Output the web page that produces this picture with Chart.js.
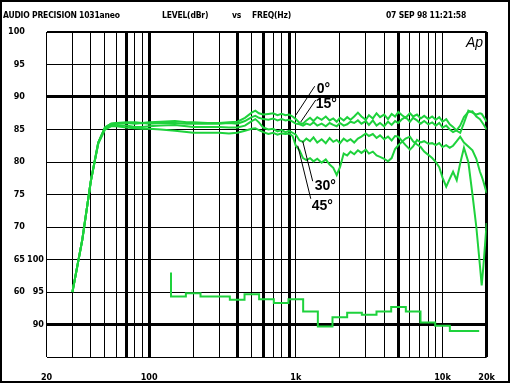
<!DOCTYPE html>
<html>
<head>
<meta charset="utf-8">
<script src="https://cdn.jsdelivr.net/npm/chart.js@4"></script>
<style>
  html,body{margin:0;padding:0;background:#fff;}
  #wrap{position:relative;width:510px;height:384px;overflow:hidden;}
  canvas{position:absolute;left:0;top:0;}
  .hdr{position:absolute;top:10px;font:bold 8.5px "Liberation Sans Narrow","DejaVu Sans Condensed",sans-serif;letter-spacing:-0.2px;color:#000;white-space:nowrap;line-height:11px;}
  #ap{position:absolute;left:466px;top:34px;font:italic 14px "Liberation Sans",Arial,sans-serif;color:#000;}
  #frame{position:absolute;left:0;top:0;width:510px;height:383px;box-sizing:border-box;border:2px solid #000;pointer-events:none;}
</style>
</head>
<body>
<div id="wrap">
  <canvas id="c" width="510" height="384"></canvas>
  <div class="hdr" style="left:3px">AUDIO PRECISION 1031aneo</div>
  <div class="hdr" style="left:162px">LEVEL(dBr)</div>
  <div class="hdr" style="left:232px">vs</div>
  <div class="hdr" style="left:252px">FREQ(Hz)</div>
  <div class="hdr" style="left:386px">07 SEP 98 11:21:58</div>
  <div id="ap">Ap</div>
  <div id="frame"></div>
</div>
<script>
// ---- data ----
const freqs = [30,35,40,45,50,55,60,70,80,90,100,120,150,180,200,250,300,350,400,
  450,500,530,560,600,650,700,750,800,850,900,950,1000,
  1060,1120,1180,1250,1320,1400,1500,1600,1700,1800,1900,2000,2120,2240,2360,2500,2650,
  2800,3000,3150,3350,3550,3750,4000,4250,4500,4750,5000,5300,5600,6000,6300,6700,7100,7500,8000,
  8500,9000,9500,10000,10600,11200,11800,12500,13200,14000,15000,16000,17000,18000,18500,19000,20000];

const deg0 = [60.0,68.0,77.0,83.0,85.3,85.9,86.0,86.1,86.1,86.0,86.1,86.2,86.3,86.1,86.1,86.0,86.0,86.1,86.2,
  86.8,87.6,87.9,87.5,87.3,87.4,87.5,87.2,87.4,87.2,87.3,87.0,86.6,
  86.0,85.9,86.4,86.8,86.3,86.9,86.5,87.0,86.4,86.7,86.2,86.8,86.4,86.9,86.5,87.0,87.6,
  87.0,86.5,87.2,86.7,87.5,86.9,87.3,86.6,87.4,87.0,87.7,87.2,86.8,87.5,87.0,87.3,86.7,87.1,86.6,
  87.0,86.5,86.9,86.2,86.6,85.8,85.4,84.8,84.5,86.0,87.9,87.6,87.3,87.5,87.4,87.0,86.2];

const deg15 = [60.0,68.0,77.0,83.0,85.3,85.9,86.0,86.0,85.9,86.0,85.9,86.0,86.0,85.9,85.9,85.9,85.9,86.0,85.9,
  86.3,86.9,87.1,86.8,86.6,86.5,86.7,86.4,86.6,86.4,86.5,86.2,85.9,
  85.8,85.6,85.9,85.7,86.1,85.6,85.9,85.5,86.0,85.7,85.5,86.0,85.6,85.8,86.2,86.0,86.4,
  85.9,86.3,85.7,86.4,85.6,86.0,85.5,86.2,85.7,86.3,86.0,86.6,86.9,86.2,86.8,86.4,85.9,86.3,85.8,
  86.1,85.6,86.0,85.3,85.6,85.0,84.6,84.9,85.6,86.9,87.7,87.8,87.0,86.6,86.2,85.8,85.0];

const deg30 = [60.0,68.0,77.0,83.0,85.2,85.7,85.7,85.6,85.4,85.4,85.5,85.6,85.7,85.5,85.4,85.4,85.4,85.3,85.3,
  85.6,86.3,86.6,86.1,85.3,85.0,85.1,84.7,84.9,84.6,84.8,84.5,84.2,
  83.3,83.1,83.6,83.2,83.8,83.0,83.5,82.9,83.7,83.1,83.4,82.9,83.6,83.2,83.5,83.0,83.6,
  83.9,84.4,84.0,84.3,83.7,84.1,83.5,83.9,83.3,84.0,83.9,83.2,82.6,81.9,82.4,83.4,83.0,83.2,82.8,
  82.9,82.6,82.9,82.3,82.6,82.2,82.5,83.2,83.9,83.0,82.4,81.8,80.5,78.5,77.8,77.0,75.2];

const deg45 = [60.0,68.0,77.0,82.8,85.0,85.5,85.5,85.3,85.2,85.1,85.1,85.0,84.8,84.6,84.5,84.5,84.5,84.4,84.5,
  84.8,85.1,85.2,84.9,84.6,84.3,84.5,84.2,84.4,84.3,84.4,84.0,82.5,
  81.8,80.6,80.3,80.6,80.1,80.5,79.9,80.4,79.6,79.1,78.0,79.2,81.3,81.0,81.6,81.2,81.8,
  81.4,81.9,81.3,81.6,81.0,80.8,80.5,80.1,80.6,82.0,82.6,83.1,83.6,83.9,83.2,82.7,82.3,81.6,81.1,
  80.6,80.0,79.2,77.6,76.2,77.4,78.5,77.2,79.8,82.2,80.0,75.0,70.0,64.0,61.0,64.0,70.6];

// third-octave band edges (Hz) and levels on the secondary scale
const bandEdges = [141,178,224,282,355,447,562,708,891,1122,1413,1778,2239,2818,3548,4467,5623,7079,8913,11220,14125,17783];
const bandLevels = [98.0,94.3,94.8,94.3,94.3,93.8,94.65,93.9,93.3,93.9,92.0,89.7,91.1,91.8,91.5,92.0,92.7,92.0,90.3,89.8,89.0];

// axis ticks
const xGrid = [20,30,40,50,60,70,80,90,100,200,300,400,500,600,700,800,900,1000,2000,3000,4000,5000,6000,7000,8000,9000,10000,20000];
const xLabels = {20:'20',100:'100',1000:'1k',10000:'10k',20000:'20k'};
const xThick = [70,100,400,600,900,5000,20000];
const yLabelsLeft = [60,65,70,75,80,85,90,95,100];
const yLabelsSecond = [90,95,100];
const seriesNames = ['0°','15°','30°','45°'];

// ---- build ----
const GREEN = '#1ed23c';
const pts = arr => freqs.map((f,i)=>({x:f,y:arr[i]}));
const bandPts = bandEdges.map((e,i)=>({x:e,y:bandLevels[Math.min(i,bandLevels.length-1)]}));

const lineDs = (label,arr)=>({label,data:pts(arr),borderColor:GREEN,borderWidth:2,pointRadius:0,tension:0,fill:false,yAxisID:'y'});

// label annotations: anchor on curve (data) + pixel offsets
const notes = [
  {t:seriesNames[0], f:999,  v:87.2, lx:19, ly:-29, tx:21, ty:-26},
  {t:seriesNames[1], f:1080, v:86.15,lx:15, ly:-22, tx:15, ty:-18},
  {t:seriesNames[2], f:1114, v:83.2, lx:10, ly:40,  tx:12, ty:45},
  {t:seriesNames[3], f:1031, v:82.5, lx:13, ly:53,  tx:14, ty:60}
];
const notePlugin = {
  id:'notes',
  afterDatasetsDraw(chart){
    const {ctx,scales:{x,y}} = chart;
    ctx.save();
    ctx.strokeStyle='#000';ctx.lineWidth=1;ctx.fillStyle='#000';
    ctx.font='bold 14px "Liberation Sans", Arial, sans-serif';
    ctx.textBaseline='middle';ctx.textAlign='left';
    notes.forEach(n=>{
      const px=x.getPixelForValue(n.f), py=y.getPixelForValue(n.v);
      ctx.beginPath();ctx.moveTo(px,py);ctx.lineTo(px+n.lx,py+n.ly);ctx.stroke();
      ctx.fillText(n.t,px+n.tx,py+n.ty);
    });
    ctx.restore();
  }
};

const tickFont = {family:'"Liberation Sans Narrow","DejaVu Sans Condensed",sans-serif',size:9,weight:'bold'};

new Chart(document.getElementById('c'),{
  type:'line',
  data:{datasets:[
    lineDs(seriesNames[0],deg0),
    lineDs(seriesNames[1],deg15),
    lineDs(seriesNames[2],deg30),
    lineDs(seriesNames[3],deg45),
    {label:'bands',data:bandPts,borderColor:GREEN,borderWidth:2,pointRadius:0,stepped:'after',fill:false,yAxisID:'y2'}
  ]},
  options:{
    responsive:false,animation:false,devicePixelRatio:1,
    layout:{padding:{left:0,right:20,top:32,bottom:0}},
    plugins:{legend:{display:false},tooltip:{enabled:false}},
    scales:{
      x:{type:'logarithmic',min:20,max:20000,
        afterBuildTicks:s=>{s.ticks=xGrid.map(v=>({value:v}));},
        afterFit:s=>{s.height=27;},
        ticks:{autoSkip:false,maxRotation:0,minRotation:0,padding:15,color:'#000',font:tickFont,
          callback:v=>xLabels[v]||''},
        grid:{color:'#000',drawTicks:false,lineWidth:c=>(c.tick&&xThick.includes(c.tick.value))?3:1},
        border:{display:false}
      },
      y:{type:'linear',position:'left',weight:1,min:50,max:100,
        afterBuildTicks:s=>{s.ticks=[50,55,60,65,70,75,80,85,90,95,100].map(v=>({value:v}));},
        afterFit:s=>{s.width=27;},
        ticks:{padding:2,color:'#000',font:tickFont,callback:v=>yLabelsLeft.includes(v)?String(v):''},
        grid:{color:'#000',drawTicks:false,lineWidth:c=>{const v=c.tick&&c.tick.value;return (v===90||v===55)?3:(v===100?2:1);}},
        border:{display:false}
      },
      y2:{type:'linear',position:'left',weight:0,min:85,max:135,
        afterBuildTicks:s=>{s.ticks=yLabelsSecond.map(v=>({value:v}));},
        afterFit:s=>{s.width=19.6;},
        ticks:{padding:2.6,color:'#000',font:tickFont,callback:v=>String(v)},
        grid:{display:false,drawTicks:false},
        border:{display:false}
      }
    }
  },
  plugins:[notePlugin]
});
</script>
</body>
</html>
